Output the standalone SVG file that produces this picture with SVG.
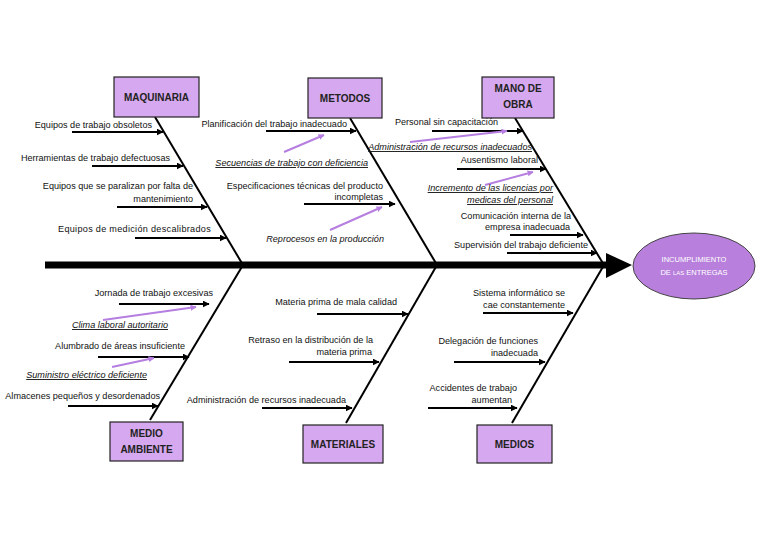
<svg xmlns="http://www.w3.org/2000/svg" width="768" height="543" viewBox="0 0 768 543">
<defs>
<marker id="ab" viewBox="0 0 10 10" refX="9" refY="5" markerWidth="7" markerHeight="7" markerUnits="userSpaceOnUse" orient="auto"><path d="M0,0 L10,5 L0,10 z" fill="#000"/></marker>
<marker id="ap" viewBox="0 0 10 10" refX="9" refY="5" markerWidth="6" markerHeight="6" markerUnits="userSpaceOnUse" orient="auto"><path d="M0,0 L10,5 L0,10 z" fill="#b57ee0"/></marker>
<style>
.t{font-family:"Liberation Sans",Arial,sans-serif;font-size:9.1px;fill:#111;text-anchor:end}
.i{font-style:italic;text-decoration:underline}
.box{fill:#d6a8ef;stroke:#222;stroke-width:1.2}
.bt{font-family:"Liberation Sans",Arial,sans-serif;font-size:10px;font-weight:bold;fill:#222;text-anchor:middle}
.bone{stroke:#000;stroke-width:2;fill:none}
.ar{stroke:#000;stroke-width:1.8;marker-end:url(#ab)}
.pa{stroke:#b57ee0;stroke-width:2;marker-end:url(#ap)}
.et{font-family:"Liberation Sans",Arial,sans-serif;font-size:7.5px;fill:#fff;text-anchor:middle}
</style>
</defs>
<rect width="768" height="543" fill="#fff"/>
<g id="connectors">
<line x1="45" y1="265" x2="608" y2="265" stroke="#000" stroke-width="7"/>
<polygon points="606,253 632,265 606,278" fill="#000"/>
<line class="bone" x1="155" y1="117" x2="243" y2="265"/>
<line class="bone" x1="350" y1="118" x2="437" y2="265"/>
<line class="bone" x1="515" y1="118" x2="604" y2="265"/>
<line class="bone" x1="243" y1="265" x2="150" y2="420"/>
<line class="bone" x1="437" y1="265" x2="346" y2="423"/>
<line class="bone" x1="604" y1="265" x2="512" y2="423"/>
<line class="ar" x1="72" y1="132" x2="163" y2="132"/>
<line class="ar" x1="92" y1="166" x2="183" y2="166"/>
<line class="ar" x1="117" y1="207" x2="207" y2="207"/>
<line class="ar" x1="135" y1="238" x2="226" y2="238"/>
<line class="ar" x1="266" y1="131" x2="356" y2="131"/>
<line class="ar" x1="304" y1="204" x2="395" y2="204"/>
<line class="ar" x1="432" y1="131" x2="523" y2="131"/>
<line class="ar" x1="457" y1="169" x2="546" y2="169"/>
<line class="ar" x1="510" y1="235" x2="583" y2="235"/>
<line class="ar" x1="507" y1="253" x2="597" y2="253"/>
<line class="ar" x1="119" y1="304" x2="209" y2="304"/>
<line class="ar" x1="98" y1="357" x2="189" y2="357"/>
<line class="ar" x1="68" y1="406" x2="158" y2="406"/>
<line class="ar" x1="317" y1="314" x2="408" y2="314"/>
<line class="ar" x1="289" y1="362" x2="379" y2="362"/>
<line class="ar" x1="262" y1="408" x2="352" y2="408"/>
<line class="ar" x1="483" y1="313" x2="573" y2="313"/>
<line class="ar" x1="454" y1="362" x2="545" y2="362"/>
<line class="ar" x1="428" y1="408" x2="517" y2="408"/>
<line class="pa" x1="284" y1="152" x2="324" y2="135"/>
<line class="pa" x1="330" y1="230" x2="382" y2="207"/>
<line class="pa" x1="410" y1="142" x2="507" y2="131"/>
<line class="pa" x1="485" y1="185" x2="533" y2="172"/>
<line class="pa" x1="103" y1="320" x2="196" y2="307"/>
<line class="pa" x1="112" y1="367" x2="154" y2="358"/>
</g>
<g id="maquinaria"><rect class="box" x="114" y="77" width="85" height="40"/><text class="bt" x="156.5" y="101">MAQUINARIA</text></g>
<g id="metodos"><rect class="box" x="308" y="78" width="74" height="40"/><text class="bt" x="345" y="102">METODOS</text></g>
<g id="mano-de-obra"><rect class="box" x="482" y="77" width="72" height="41"/><text class="bt" x="518" y="92">MANO DE</text><text class="bt" x="518" y="108">OBRA</text></g>
<g id="medio-ambiente"><rect class="box" x="110" y="422" width="73" height="39"/><text class="bt" x="146.5" y="437">MEDIO</text><text class="bt" x="146.5" y="453">AMBIENTE</text></g>
<g id="materiales"><rect class="box" x="303" y="425" width="80" height="38"/><text class="bt" x="343" y="448">MATERIALES</text></g>
<g id="medios"><rect class="box" x="477" y="425" width="75" height="38"/><text class="bt" x="514.5" y="448">MEDIOS</text></g>
<g id="efecto"><ellipse cx="694" cy="266" rx="61" ry="33" fill="#b87fdc" stroke="#444" stroke-width="1"/>
<text class="et" x="694" y="262">INCUMPLIMIENTO</text>
<text class="et" x="694" y="275">DE <tspan font-size="6">LAS</tspan> ENTREGAS</text></g>
<g id="causas-maquinaria">
<text class="t" x="152" y="128">Equipos de trabajo obsoletos</text>
<text class="t" x="170" y="161">Herramientas de trabajo defectuosas</text>
<text class="t" x="193" y="189">Equipos que se paralizan por falta de</text>
<text class="t" x="193" y="202">mantenimiento</text>
<text class="t" x="211" y="232" letter-spacing="0.3">Equipos de medición descalibrados</text>
</g>
<g id="causas-metodos">
<text class="t" x="347" y="127">Planificación del trabajo inadecuado</text>
<text class="t i" x="368" y="166">Secuencias de trabajo con deficiencia</text>
<text class="t" x="383" y="189">Especificaciones técnicas del producto</text>
<text class="t" x="383" y="200">incompletas</text>
<text class="t" x="384" y="242" font-style="italic">Reprocesos en la producción</text>
</g>
<g id="causas-mano-de-obra">
<text class="t" x="498" y="125">Personal sin capacitación</text>
<text class="t i" x="532" y="150">Administración de recursos inadecuados</text>
<text class="t" x="538" y="163">Ausentismo laboral</text>
<text class="t i" x="553" y="191">Incremento de las licencias por</text>
<text class="t i" x="553" y="203">medicas del personal</text>
<text class="t" x="571" y="219">Comunicación interna de la</text>
<text class="t" x="570" y="230">empresa inadecuada</text>
<text class="t" x="588" y="248">Supervisión del trabajo deficiente</text>
</g>
<g id="causas-medio-ambiente">
<text class="t" x="213" y="296">Jornada de trabajo excesivas</text>
<text class="t i" x="168" y="328">Clima laboral autoritario</text>
<text class="t" x="185" y="349">Alumbrado de áreas insuficiente</text>
<text class="t i" x="147" y="378">Suministro eléctrico deficiente</text>
<text class="t" x="160" y="399">Almacenes pequeños y desordenados</text>
</g>
<g id="causas-materiales">
<text class="t" x="397" y="305">Materia prima de mala calidad</text>
<text class="t" x="373" y="343">Retraso en la distribución de la</text>
<text class="t" x="372" y="355">materia prima</text>
<text class="t" x="346" y="403">Administración de recursos inadecuada</text>
</g>
<g id="causas-medios">
<text class="t" x="565" y="296">Sistema informático se</text>
<text class="t" x="565" y="308">cae constantemente</text>
<text class="t" x="538" y="344">Delegación de funciones</text>
<text class="t" x="538" y="356">inadecuada</text>
<text class="t" x="517" y="391">Accidentes de trabajo</text>
<text class="t" x="512" y="403">aumentan</text>
</g>
</svg>
